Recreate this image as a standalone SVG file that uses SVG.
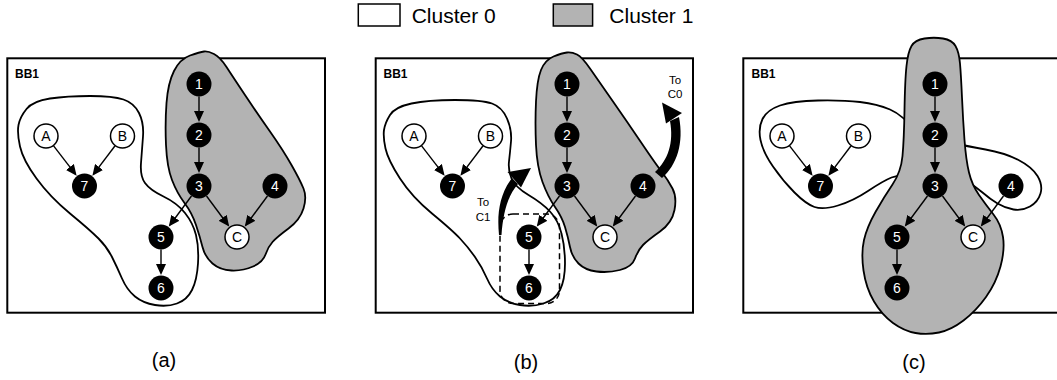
<svg xmlns="http://www.w3.org/2000/svg" width="1057" height="380" viewBox="0 0 1057 380">
  <defs>
    <marker id="tip" markerUnits="userSpaceOnUse" markerWidth="11" markerHeight="10" refX="9" refY="5" orient="auto">
      <path d="M0,0 L11,5 L0,10 z" fill="#000"/>
    </marker>
    <style>
      text { font-family: "Liberation Sans", Arial, sans-serif; }
      .box { fill: #fff; stroke: #000; stroke-width: 2; }
      .c0 { fill: #fff; stroke: #000; stroke-width: 1.8; stroke-linejoin: round; }
      .c1 { fill: #b3b3b3; stroke: #000; stroke-width: 1.8; stroke-linejoin: round; }
      .bb { font-size: 12px; font-weight: bold; fill: #000; }
      .edge { stroke: #000; stroke-width: 1.4; fill: none; marker-end: url(#tip); }
      .op { fill: #000; }
      .val { fill: #fff; stroke: #000; stroke-width: 1.5; }
      .opt { font-size: 14px; fill: #fff; text-anchor: middle; }
      .valt { font-size: 14px; fill: #000; text-anchor: middle; }
      .leg { font-size: 21px; fill: #000; }
      .cap { font-size: 20px; fill: #000; text-anchor: middle; }
      .note { font-size: 11.5px; fill: #000; text-anchor: middle; }
      .move { fill: #000; }
      .sel { fill: none; stroke: #000; stroke-width: 1.5; stroke-dasharray: 6 4; }
    </style>
  </defs>

  <!-- legend -->
  <g id="legend">
    <rect x="358.3" y="4" width="41.7" height="22" fill="#fff" stroke="#000" stroke-width="1.5"/>
    <text class="leg" x="411.7" y="22.7">Cluster 0</text>
    <rect x="553.3" y="4" width="39.3" height="22" fill="#b3b3b3" stroke="#000" stroke-width="1.5"/>
    <text class="leg" x="609.3" y="22.7">Cluster 1</text>
  </g>

  <!-- (a) initial partition -->
  <g id="panel-a">
    <rect class="box" x="7.3" y="58.3" width="317.7" height="254.4"/>
    <text class="bb" x="15" y="78">BB1</text>
    <path id="a-cluster1" class="c1" d="M204,51.5 Q200,52 190,55.5 Q180,59 174,71 Q168,83 166.5,103 Q165,123 166,145 Q167,167 172,180 Q177,193 184.5,203 Q192,213 196,225 Q200,237 202.5,247 Q205,257 212.5,263.5 Q220,270 231.5,270.5 Q243,271 253,266.5 Q263,262 265.5,254.5 Q268,247 272.5,242 Q277,237 288.5,228.5 Q300,220 303.5,208.5 Q307,197 303.5,188.5 Q300,180 291.5,165 Q283,150 270,131.5 Q257,113 245,95 Q233,77 226.5,67 Q220,57 214,54 Q208,51 204,51.5 Z"/>
    <path id="a-cluster0" class="c0" d="M18.5,125 Q20,117 26.5,109 Q33,101 50,98.5 Q67,96 90,96 Q113,96 123.5,99.5 Q134,103 139,113 Q144,123 143,136.5 Q142,150 141,163 Q140,176 145,183 Q150,190 163.5,196.5 Q177,203 185,213 Q193,223 196,235 Q199,247 198,263.5 Q197,280 192,290 Q187,300 177,303.5 Q167,307 155,305 Q143,303 135,296.5 Q127,290 122,278.5 Q117,267 112,257 Q107,247 98.5,238.5 Q90,230 70,213.5 Q50,197 36.5,178.5 Q23,160 20,146.5 Q17,133 18.5,125 Z"/>
    <text class="cap" x="164" y="366.5">(a)</text>
  </g>

  <!-- (b) moving nodes between clusters -->
  <g id="panel-b">
    <rect class="box" x="375.7" y="58.3" width="317.3" height="254.4"/>
    <text class="bb" x="383.5" y="78">BB1</text>
    <path id="b-cluster1" class="c1" d="M567,52.5 Q562,53 553.5,56.5 Q545,60 541,70 Q537,80 536,101.5 Q535,123 536,145 Q537,167 542.5,182 Q548,197 555,207 Q562,217 565,227 Q568,237 570,247 Q572,257 578.5,263.5 Q585,270 596.5,271.5 Q608,273 620,270 Q632,267 635,258.5 Q638,250 643,245 Q648,240 660,231.5 Q672,223 674.5,210 Q677,197 672.5,188.5 Q668,180 661.5,171.5 Q655,163 641.5,143 Q628,123 613,101.5 Q598,80 590,68.5 Q582,57 577,54.5 Q572,52 567,52.5 Z"/>
    <path id="b-cluster0" class="c0" d="M384,130 Q385,123 390,115 Q395,107 411.5,103.5 Q428,100 455,100 Q482,100 492,103.5 Q502,107 507,118.5 Q512,130 511,141.5 Q510,153 509,161.5 Q508,170 511.5,178.5 Q515,187 528.5,195 Q542,203 550,211.5 Q558,220 561.5,233.5 Q565,247 565,263.5 Q565,280 560,290 Q555,300 543.5,303.5 Q532,307 520,305 Q508,303 500,296.5 Q492,290 487,278.5 Q482,267 475,257 Q468,247 460,238.5 Q452,230 432,213.5 Q412,197 400,178.5 Q388,160 385.5,148.5 Q383,137 384,130 Z"/>
    <rect id="b-selection" class="sel" x="500" y="214" width="59.5" height="89.5" rx="13"/>
    <g id="b-move-to-c1">
      <path class="move" d="M499,235 C497,215 499,195 512,178 L518,184 C508,195 503,213 501.5,235 Z"/>
      <polygon class="move" points="507.5,172 531,168 521,187.5"/>
      <text class="note" x="483" y="206">To</text>
      <text class="note" x="483" y="220.5">C1</text>
    </g>
    <g id="b-move-to-c0">
      <path class="move" d="M655,172 C668,160 674,143 670,121 L679,117 C684,143 677,165 662,178 Z"/>
      <polygon class="move" points="662,102.5 682,113 666,123.5"/>
      <text class="note" x="675" y="84">To</text>
      <text class="note" x="675" y="98">C0</text>
    </g>
    <text class="cap" x="526" y="369">(b)</text>
  </g>

  <!-- (c) final partition -->
  <g id="panel-c">
    <rect class="box" x="743.3" y="58.3" width="320" height="254.4"/>
    <text class="bb" x="751.5" y="78">BB1</text>
    <path id="c-cluster0" class="c0" d="M935,145 Q930,150 916.5,132.5 Q903,115 890,109.5 Q877,104 860,102 Q843,100 818,100.5 Q793,101 780,105.5 Q767,110 762.5,119 Q758,128 760.5,140 Q763,152 773,166.5 Q783,181 794.5,192.5 Q806,204 814.5,207 Q823,210 838,205.5 Q853,201 868,191 Q883,181 891.5,177.5 Q900,174 917.5,177 Q935,180 947.5,179 Q960,178 967.5,182 Q975,186 982.5,192.5 Q990,199 997.5,203.5 Q1005,208 1013.5,209.5 Q1022,211 1030,206.5 Q1038,202 1040.5,193.5 Q1043,185 1037.5,176 Q1032,167 1018.5,160 Q1005,153 985.5,149.5 Q966,146 953,143 Q940,140 935,145 Z"/>
    <path id="c-cluster1" class="c1" d="M943,38.5 Q934,37 924.5,38.5 Q915,40 911.5,46 Q908,52 906.5,66 Q905,80 904.5,110 Q904,140 902.5,156 Q901,172 892.5,184.5 Q884,197 875.5,212 Q867,227 864,240 Q861,253 863.5,270.5 Q866,288 874,301.5 Q882,315 893,323 Q904,331 915.5,333 Q927,335 939,332.5 Q951,330 963.5,320.5 Q976,311 986,297 Q996,283 1000.5,266.5 Q1005,250 1003,237 Q1001,224 993.5,214.5 Q986,205 979,195 Q972,185 969,172.5 Q966,160 964.5,140 Q963,120 962,97.5 Q961,75 960,63.5 Q959,52 955.5,46 Q952,40 943,38.5 Z"/>
    <text class="cap" x="914" y="369">(c)</text>
  </g>

  <!-- connectors: the same dependence edges in every panel -->
  <g id="connectors">
    <g id="a-edges">
      <line class="edge" x1="199" y1="96.5" x2="199" y2="120"/>
      <line class="edge" x1="199" y1="147.5" x2="199" y2="171"/>
      <line class="edge" x1="191.5" y1="196" x2="170" y2="225"/>
      <line class="edge" x1="206.5" y1="196" x2="228" y2="225"/>
      <line class="edge" x1="267.5" y1="196" x2="246" y2="225"/>
      <line class="edge" x1="53.6" y1="145.9" x2="75.4" y2="174.1"/>
      <line class="edge" x1="114.9" y1="146" x2="93.6" y2="174.1"/>
      <line class="edge" x1="161" y1="249.5" x2="161" y2="273"/>
    </g>
    <g id="b-edges" transform="translate(368,0)">
      <line class="edge" x1="199" y1="96.5" x2="199" y2="120"/>
      <line class="edge" x1="199" y1="147.5" x2="199" y2="171"/>
      <line class="edge" x1="191.5" y1="196" x2="170" y2="225"/>
      <line class="edge" x1="206.5" y1="196" x2="228" y2="225"/>
      <line class="edge" x1="267.5" y1="196" x2="246" y2="225"/>
      <line class="edge" x1="53.6" y1="145.9" x2="75.4" y2="174.1"/>
      <line class="edge" x1="114.9" y1="146" x2="93.6" y2="174.1"/>
      <line class="edge" x1="161" y1="249.5" x2="161" y2="273"/>
    </g>
    <g id="c-edges" transform="translate(736,0)">
      <line class="edge" x1="199" y1="96.5" x2="199" y2="120"/>
      <line class="edge" x1="199" y1="147.5" x2="199" y2="171"/>
      <line class="edge" x1="191.5" y1="196" x2="170" y2="225"/>
      <line class="edge" x1="206.5" y1="196" x2="228" y2="225"/>
      <line class="edge" x1="267.5" y1="196" x2="246" y2="225"/>
      <line class="edge" x1="53.6" y1="145.9" x2="75.4" y2="174.1"/>
      <line class="edge" x1="114.9" y1="146" x2="93.6" y2="174.1"/>
      <line class="edge" x1="161" y1="249.5" x2="161" y2="273"/>
    </g>
  </g>

  <!-- nodes, panel (a) -->
  <g id="a-nodes">
    <g id="a-n1"><circle class="op" cx="199" cy="84" r="12.5"/><text class="opt" x="199" y="89">1</text></g>
    <g id="a-n2"><circle class="op" cx="199" cy="135" r="12.5"/><text class="opt" x="199" y="140">2</text></g>
    <g id="a-n3"><circle class="op" cx="199" cy="186" r="12.5"/><text class="opt" x="199" y="191">3</text></g>
    <g id="a-n4"><circle class="op" cx="275" cy="186" r="12.5"/><text class="opt" x="275" y="191">4</text></g>
    <g id="a-n5"><circle class="op" cx="161" cy="237" r="12.5"/><text class="opt" x="161" y="242">5</text></g>
    <g id="a-n6"><circle class="op" cx="161" cy="288" r="12.5"/><text class="opt" x="161" y="293">6</text></g>
    <g id="a-n7"><circle class="op" cx="84.5" cy="186" r="12.5"/><text class="opt" x="84.5" y="191">7</text></g>
    <g id="a-nA"><circle class="val" cx="46" cy="136" r="12"/><text class="valt" x="46" y="141">A</text></g>
    <g id="a-nB"><circle class="val" cx="122.5" cy="136" r="12"/><text class="valt" x="122.5" y="141">B</text></g>
    <g id="a-nC"><circle class="val" cx="237" cy="237" r="12"/><text class="valt" x="237" y="242">C</text></g>
  </g>

  <!-- nodes, panel (b) -->
  <g id="b-nodes" transform="translate(368,0)">
    <g id="b-n1"><circle class="op" cx="199" cy="84" r="12.5"/><text class="opt" x="199" y="89">1</text></g>
    <g id="b-n2"><circle class="op" cx="199" cy="135" r="12.5"/><text class="opt" x="199" y="140">2</text></g>
    <g id="b-n3"><circle class="op" cx="199" cy="186" r="12.5"/><text class="opt" x="199" y="191">3</text></g>
    <g id="b-n4"><circle class="op" cx="275" cy="186" r="12.5"/><text class="opt" x="275" y="191">4</text></g>
    <g id="b-n5"><circle class="op" cx="161" cy="237" r="12.5"/><text class="opt" x="161" y="242">5</text></g>
    <g id="b-n6"><circle class="op" cx="161" cy="288" r="12.5"/><text class="opt" x="161" y="293">6</text></g>
    <g id="b-n7"><circle class="op" cx="84.5" cy="186" r="12.5"/><text class="opt" x="84.5" y="191">7</text></g>
    <g id="b-nA"><circle class="val" cx="46" cy="136" r="12"/><text class="valt" x="46" y="141">A</text></g>
    <g id="b-nB"><circle class="val" cx="122.5" cy="136" r="12"/><text class="valt" x="122.5" y="141">B</text></g>
    <g id="b-nC"><circle class="val" cx="237" cy="237" r="12"/><text class="valt" x="237" y="242">C</text></g>
  </g>

  <!-- nodes, panel (c) -->
  <g id="c-nodes" transform="translate(736,0)">
    <g id="c-n1"><circle class="op" cx="199" cy="84" r="12.5"/><text class="opt" x="199" y="89">1</text></g>
    <g id="c-n2"><circle class="op" cx="199" cy="135" r="12.5"/><text class="opt" x="199" y="140">2</text></g>
    <g id="c-n3"><circle class="op" cx="199" cy="186" r="12.5"/><text class="opt" x="199" y="191">3</text></g>
    <g id="c-n4"><circle class="op" cx="275" cy="186" r="12.5"/><text class="opt" x="275" y="191">4</text></g>
    <g id="c-n5"><circle class="op" cx="161" cy="237" r="12.5"/><text class="opt" x="161" y="242">5</text></g>
    <g id="c-n6"><circle class="op" cx="161" cy="288" r="12.5"/><text class="opt" x="161" y="293">6</text></g>
    <g id="c-n7"><circle class="op" cx="84.5" cy="186" r="12.5"/><text class="opt" x="84.5" y="191">7</text></g>
    <g id="c-nA"><circle class="val" cx="46" cy="136" r="12"/><text class="valt" x="46" y="141">A</text></g>
    <g id="c-nB"><circle class="val" cx="122.5" cy="136" r="12"/><text class="valt" x="122.5" y="141">B</text></g>
    <g id="c-nC"><circle class="val" cx="237" cy="237" r="12"/><text class="valt" x="237" y="242">C</text></g>
  </g>
</svg>
